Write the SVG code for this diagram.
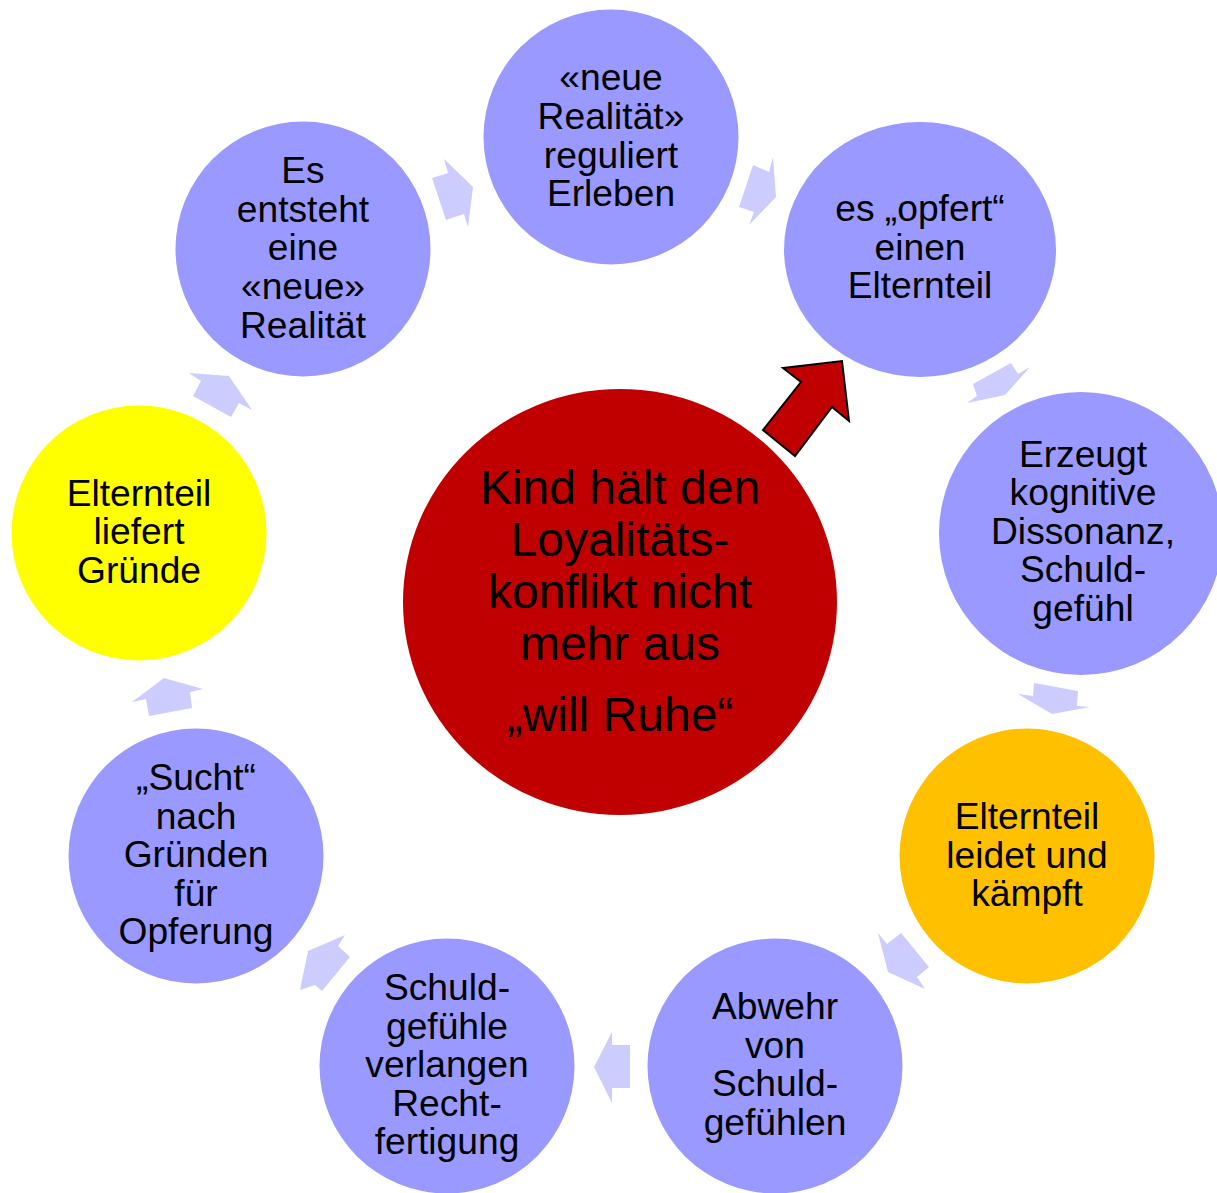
<svg xmlns="http://www.w3.org/2000/svg" width="1217" height="1193" viewBox="0 0 1217 1193">
<style>
.n{fill:#9999FF}
.t{font-family:"Liberation Sans",Arial,sans-serif;font-size:37.2px;fill:#000;text-anchor:middle}
.c{font-family:"Liberation Sans",Arial,sans-serif;font-size:48px;fill:#000;text-anchor:middle}
.a{fill:#CCCCFF}
</style>
<rect width="1217" height="1193" fill="#fff"/>
<g id="connectors">
<polygon class="a" points="432,178 448,173 444,159 473,187 468,227 464,214 446,220"/>
<polygon class="a" points="753,165 769,172 773,157 776,197 749,225 754,212 739,207"/>
<polygon class="a" points="973,384 1011,363 1018,374 1030,367 1005,395 967,403 977,396"/>
<polygon class="a" points="1034,683 1078,691 1077,706 1090,707 1052,714 1018,694 1033,696"/>
<polygon class="a" points="878,933 887,944 901,933 929,967 917,977 925,989 888,972"/>
<polygon class="a" points="612,1032 612,1045 630,1045 630,1088 612,1088 612,1103 594,1067"/>
<polygon class="a" points="345,935 338,946 350,957 322,991 315,985 300,990 308,951"/>
<polygon class="a" points="164,678 203,689 190,692 192,708 149,716 146,699 132,702"/>
<polygon class="a" points="189,373 229,376 252,410 239,403 231,417 193,396 201,381"/>
</g>
<g id="center">
<ellipse cx="620" cy="602" rx="217" ry="213" fill="#C00000"/>
<text class="c" x="620" y="504">Kind hält den</text>
<text class="c" x="620" y="556">Loyalitäts-</text>
<text class="c" x="620" y="608">konflikt nicht</text>
<text class="c" x="620" y="660">mehr aus</text>
<text class="c" x="620" y="731">„will Ruhe“</text>
</g>
<g id="red-arrow">
<polygon points="783,368 842,361 849,421 832,407 795,456 763,430 801,382" fill="#C00000" stroke="#000" stroke-width="2" stroke-linejoin="miter"/>
</g>
<g id="n1">
<circle class="n" cx="611" cy="137" r="127.5"/>
<text class="t" x="611" y="90">«neue</text>
<text class="t" x="611" y="129">Realität»</text>
<text class="t" x="611" y="168">reguliert</text>
<text class="t" x="611" y="206">Erleben</text>
</g>
<g id="n2">
<ellipse class="n" cx="920" cy="249.5" rx="136" ry="127.5"/>
<text class="t" x="920" y="221">es „opfert“</text>
<text class="t" x="920" y="260">einen</text>
<text class="t" x="920" y="298">Elternteil</text>
</g>
<g id="n3">
<ellipse class="n" cx="1081" cy="533.5" rx="142" ry="141.5"/>
<text class="t" x="1083" y="467">Erzeugt</text>
<text class="t" x="1083" y="505">kognitive</text>
<text class="t" x="1083" y="544">Dissonanz,</text>
<text class="t" x="1083" y="582">Schuld-</text>
<text class="t" x="1083" y="621">gefühl</text>
</g>
<g id="n4">
<circle cx="1027" cy="856" r="127.5" fill="#FFC000"/>
<text class="t" x="1027" y="829">Elternteil</text>
<text class="t" x="1027" y="868">leidet und</text>
<text class="t" x="1027" y="906">kämpft</text>
</g>
<g id="n5">
<circle class="n" cx="775" cy="1066" r="127.5"/>
<text class="t" x="775" y="1019">Abwehr</text>
<text class="t" x="775" y="1058">von</text>
<text class="t" x="775" y="1096">Schuld-</text>
<text class="t" x="775" y="1135">gefühlen</text>
</g>
<g id="n6">
<circle class="n" cx="447" cy="1066" r="127.5"/>
<text class="t" x="447" y="1000">Schuld-</text>
<text class="t" x="447" y="1039">gefühle</text>
<text class="t" x="447" y="1077">verlangen</text>
<text class="t" x="447" y="1116">Recht-</text>
<text class="t" x="447" y="1154">fertigung</text>
</g>
<g id="n7">
<circle class="n" cx="196" cy="856" r="127.5"/>
<text class="t" x="196" y="790">„Sucht“</text>
<text class="t" x="196" y="829">nach</text>
<text class="t" x="196" y="867">Gründen</text>
<text class="t" x="196" y="906">für</text>
<text class="t" x="196" y="944">Opferung</text>
</g>
<g id="n8">
<circle cx="139" cy="533" r="127.5" fill="#FFFF00"/>
<text class="t" x="139" y="506">Elternteil</text>
<text class="t" x="139" y="544">liefert</text>
<text class="t" x="139" y="583">Gründe</text>
</g>
<g id="n9">
<circle class="n" cx="303" cy="249" r="127.5"/>
<text class="t" x="303" y="183">Es</text>
<text class="t" x="303" y="222">entsteht</text>
<text class="t" x="303" y="260">eine</text>
<text class="t" x="303" y="299">«neue»</text>
<text class="t" x="303" y="338">Realität</text>
</g>
</svg>
